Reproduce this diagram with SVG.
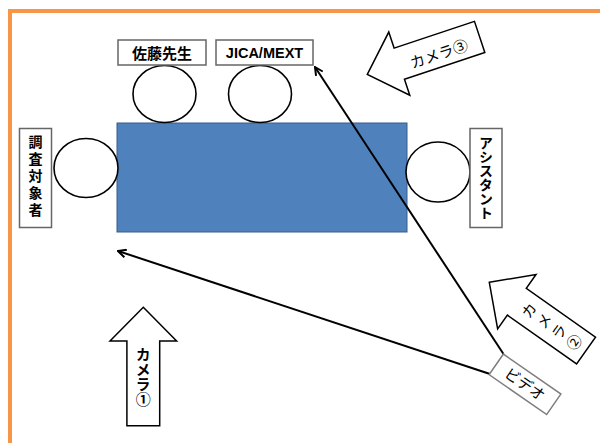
<svg xmlns="http://www.w3.org/2000/svg" width="600" height="443" viewBox="0 0 600 443">
<style>
.lbl{fill:#fff;stroke:#666;stroke-width:1.5}
.seat{fill:#fff;stroke:#000;stroke-width:1.6}
.jp{font-family:"Noto Sans CJK JP","Noto Sans",sans-serif;fill:#000}
.b{font-weight:bold}
.v{writing-mode:vertical-rl;text-anchor:middle}
.cam{fill:#fff;stroke:#000;stroke-width:1.5}
.conn{stroke:#000;stroke-width:2;fill:none}
</style>
<defs>
<path id="arrowShape" d="M0,0 L33.3,33.7 L16.4,33.7 L16.4,118.4 L-16.4,118.4 L-16.4,33.7 L-33.3,33.7 Z"/>
<marker id="ah" viewBox="0 0 10 10" refX="9" refY="5" markerWidth="10" markerHeight="10" markerUnits="userSpaceOnUse" orient="auto">
<path d="M1,1 L9,5 L1,9" fill="none" stroke="#000" stroke-width="2"/>
</marker>
</defs>
<rect width="600" height="443" fill="#fff"/>
<g id="border">
<path d="M10,443 L10,11 L600,11" fill="none" stroke="#F79646" stroke-width="4"/>
</g>
<g id="table">
<rect x="117" y="123" width="290" height="109" fill="#4F81BD" stroke="#385D8A" stroke-width="1"/>
</g>
<g id="sato">
<ellipse class="seat" cx="164.5" cy="94" rx="31.5" ry="28.5"/>
<rect class="lbl" x="118" y="40" width="88" height="25"/>
<text class="jp b" x="162" y="58.5" font-size="15" text-anchor="middle">佐藤先生</text>
</g>
<g id="jica">
<ellipse class="seat" cx="260" cy="94" rx="31.5" ry="28.5"/>
<rect class="lbl" x="216" y="40" width="97" height="25"/>
<text x="264.5" y="58" font-size="14.5" text-anchor="middle" font-family="Liberation Sans, Arial, sans-serif" font-weight="bold">JICA/MEXT</text>
</g>
<g id="subject">
<ellipse class="seat" cx="86" cy="168" rx="32" ry="29.5"/>
<rect class="lbl" x="19.5" y="128.5" width="32" height="99"/>
<text class="jp b v" x="35.5" y="177" font-size="14" letter-spacing="3">調査対象者</text>
</g>
<g id="assistant">
<ellipse class="seat" cx="438" cy="172" rx="32" ry="30"/>
<rect class="lbl" x="470" y="128.5" width="32" height="99"/>
<text class="jp b v" x="486" y="178" font-size="14">アシスタント</text>
</g>
<g id="connectors">
<line class="conn" x1="490" y1="374" x2="118" y2="251" marker-end="url(#ah)"/>
<line class="conn" x1="503.5" y1="354" x2="315" y2="67" marker-end="url(#ah)"/>
</g>
<g id="video" transform="translate(525,384.3) rotate(34.7)">
<rect x="-35" y="-12.5" width="70" height="25" fill="#fff" stroke="#7F7F7F" stroke-width="1.5"/>
<text class="jp" x="0" y="5.5" font-size="15" text-anchor="middle">ビデオ</text>
</g>
<g id="camera1" transform="translate(143.3,307.3)">
<use href="#arrowShape" class="cam"/>
<text class="jp b v" x="0" y="70" font-size="15">カメラ①</text>
</g>
<g id="camera2" transform="translate(489.3,282.3) rotate(-54.8)">
<use href="#arrowShape" class="cam"/>
<text class="jp v" x="0" y="78" font-size="15" letter-spacing="3.5">カメラ②</text>
</g>
<g id="camera3">
<use href="#arrowShape" class="cam" transform="translate(367.3,74.3) rotate(-108.4)"/>
<text class="jp" transform="translate(439,54) rotate(-18.4)" x="0" y="5.5" font-size="15" text-anchor="middle">カメラ③</text>
</g>
</svg>
